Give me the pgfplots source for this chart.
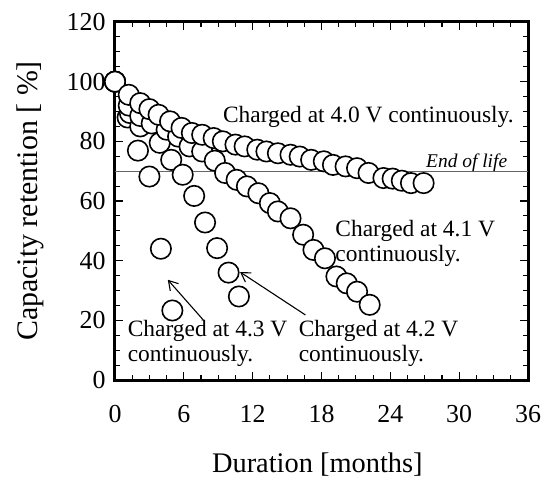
\documentclass[border=0pt]{standalone}
\usepackage{fontspec}
\setmainfont{Liberation Serif}
\usepackage{pgfplots}
\pgfplotsset{compat=1.18}
\usetikzlibrary{arrows.meta}
\begin{document}
\begin{tikzpicture}
\useasboundingbox (-115bp,-101bp) rectangle (432bp,380bp);
\begin{axis}[
  at={(0,0)}, anchor=south west,
  scale only axis, width=413bp, height=358bp,
  xmin=0, xmax=36, ymin=0, ymax=120,
  xtick={0,6,...,36}, ytick={0,20,...,120},
  minor x tick num=3, minor y tick num=3,
  tick align=inside,
  major tick length=8bp, minor tick length=5bp,
  tick style={black, line width=1.1bp},
  axis line style={line width=3bp},
  /pgf/number format/assume math mode=true,
  tick label style={font=\fontsize{26}{30}\selectfont},
  xticklabel style={yshift=-22bp},
  yticklabel style={xshift=-6bp},
  xlabel={Duration [months]},
  ylabel={Capacity retention [ \%]},
  xlabel style={font=\fontsize{28.5}{32}\selectfont, at={(axis description cs:0.49,-0.237)}, anchor=center},
  ylabel style={font=\fontsize{30}{34}\selectfont, at={(axis description cs:-0.206,0.5)}, anchor=center},
  clip=false,
]
\addplot[black!60, line width=1.3bp] coordinates {(0,70) (36,70)};

\pgfplotsset{circ/.style={only marks, mark=*, mark size=10.2bp,
  mark options={draw=black, fill=white, line width=1.6bp}}}

% 4.3 V
\addplot[circ] coordinates {(0,100) (1.1,88) (2.0,76.9) (3.0,68.2) (4.0,44) (5.0,23.3)};
% 4.2 V
\addplot[circ] coordinates {(0,100) (1.3,89.5) (2.2,85) (3.9,79.5) (4.9,73.8) (5.9,68.8)
  (6.9,61.7) (7.85,52.8) (8.9,44.2) (9.9,36) (10.8,28)};
% 4.1 V
\addplot[circ] coordinates {(0,100) (1.2,92) (2.2,88.5) (3.2,86) (4.5,83.9) (5.5,81.6)
  (6.5,78.3) (7.6,76.6) (8.7,73.5) (9.6,69.4) (10.6,67.1) (11.5,64.9) (12.5,62.6)
  (13.5,59.3) (14.2,56.5) (15.3,54.2) (16.4,48.7) (17.3,43.6) (18.3,40.8) (19.3,34.7)
  (20.2,32.4) (21.1,29.6) (22.2,25.2)};
% 4.0 V
\addplot[circ] coordinates {(0,100) (1.2,95.6) (2.2,92.8) (3.0,90.8) (3.8,88.9) (4.8,86.7)
  (5.8,84.5) (6.7,82.8) (7.6,82.2) (8.6,81.1) (9.4,80) (10.5,78.9) (11.3,78.3) (12.4,77.2)
  (13.2,76.6) (14.2,76) (15.3,75.5) (16.1,74.9) (17.1,73.8) (18.2,73.3) (19.0,72.1)
  (20.1,71.6) (21.1,71) (22.1,69.4) (23.4,67.7) (24.2,67.5) (25.0,66.8) (25.8,66) (26.9,66)};

\node[anchor=west, inner sep=0, font=\fontsize{23.5}{24.5}\selectfont]
  at (axis cs:9.4,88.3) {Charged at 4.0 V continuously.};
\node[anchor=base east, inner sep=0, font=\itshape\fontsize{19.5}{21}\selectfont]
  at (axis cs:34.2,71.3) {End of life};
\node[anchor=west, inner sep=0, align=left, font=\fontsize{23.5}{24.5}\selectfont]
  at (axis cs:19.2,45.8) {Charged at 4.1 V\\continuously.};
\node[anchor=west, inner sep=0, align=left, font=\fontsize{23.5}{24.5}\selectfont]
  at (axis cs:1.1,12.2) {Charged at 4.3 V\\continuously.};
\node[anchor=west, inner sep=0, align=left, font=\fontsize{23.5}{24.5}\selectfont]
  at (axis cs:16.0,12.2) {Charged at 4.2 V\\continuously.};
\draw[-{Straight Barb[length=9bp,width=11bp]}, line width=1.1bp]
  (axis cs:7.7,20.1) -- (axis cs:4.6,33.6);
\draw[-{Straight Barb[length=9bp,width=11bp]}, line width=1.1bp]
  (axis cs:16.6,21.8) -- (axis cs:10.9,36.2);
\end{axis}
\end{tikzpicture}
\end{document}
